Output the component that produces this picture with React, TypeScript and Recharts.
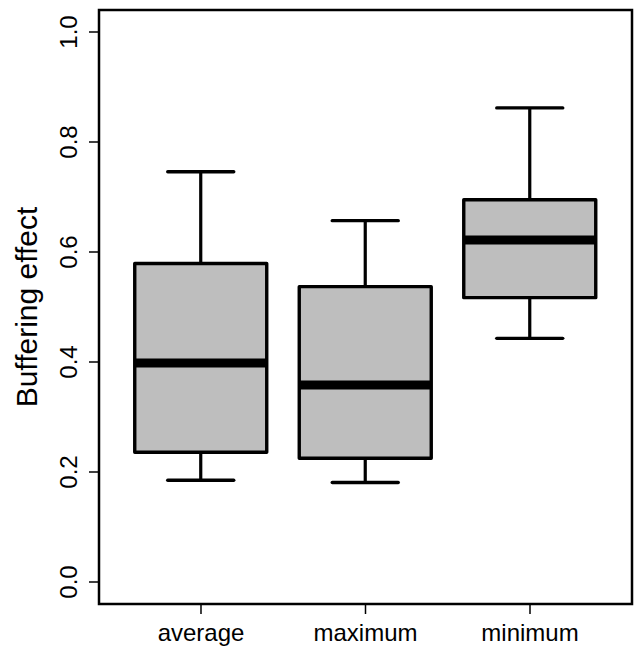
import React from 'react';
import { ComposedChart, Bar, XAxis, YAxis, ReferenceArea } from 'recharts';

const categories = ['average', 'maximum', 'minimum'];
const whiskerLow = [0.185, 0.181, 0.443];
const lowerQuartile = [0.236, 0.225, 0.517];
const medians = [0.398, 0.358, 0.622];
const upperQuartile = [0.579, 0.537, 0.695];
const whiskerHigh = [0.746, 0.657, 0.862];
const yTicks = [0, 0.2, 0.4, 0.6, 0.8, 1.0];
const xTicks = [1, 2, 3];

const data = categories.map((name, i) => ({
  name,
  pos: i + 1,
  low: whiskerLow[i],
  q1: lowerQuartile[i],
  med: medians[i],
  q3: upperQuartile[i],
  high: whiskerHigh[i],
  range: [whiskerLow[i], whiskerHigh[i]],
}));

const FONT = 'Liberation Sans, Arial, Helvetica, sans-serif';

const BoxShape = (props: any) => {
  const { x, y, width, height, payload } = props;
  const top = Math.min(y, y + height);
  const bottom = Math.max(y, y + height);
  const { low, high, q1, q3, med } = payload;
  const py = (v: number) => top + ((bottom - top) * (high - v)) / (high - low);
  const cx = x + width / 2;
  const cap = width / 4;
  return (
    <g>
      <line x1={cx} x2={cx} y1={py(high)} y2={py(q3)} stroke="#000" strokeWidth={3.2} />
      <line x1={cx} x2={cx} y1={py(q1)} y2={py(low)} stroke="#000" strokeWidth={3.2} />
      <line x1={cx - cap} x2={cx + cap} y1={py(high)} y2={py(high)} stroke="#000" strokeWidth={3.4} strokeLinecap="round" />
      <line x1={cx - cap} x2={cx + cap} y1={py(low)} y2={py(low)} stroke="#000" strokeWidth={3.4} strokeLinecap="round" />
      <rect x={x} y={py(q3)} width={width} height={py(q1) - py(q3)} fill="#BEBEBE" stroke="#000" strokeWidth={3.4} strokeLinejoin="round" />
      <line x1={x} x2={x + width} y1={py(med)} y2={py(med)} stroke="#000" strokeWidth={9} />
    </g>
  );
};

const YTick = (props: any) => {
  const { x, y, payload } = props;
  const bx = x - 10;
  return (
    <text x={bx} y={y} transform={`rotate(-90, ${bx}, ${y})`} textAnchor="middle" fontSize={24} fontFamily={FONT} fill="#000">
      {payload.value.toFixed(1)}
    </text>
  );
};

const XTick = (props: any) => {
  const { x, y, payload } = props;
  return (
    <text x={x} y={y + 25} textAnchor="middle" fontSize={24} fontFamily={FONT} fill="#000">
      {categories[payload.value - 1]}
    </text>
  );
};

const YTitle = (props: any) => {
  const vb = props.viewBox || {};
  const bx = vb.x + 37;
  const cy = vb.y + vb.height / 2;
  return (
    <text x={bx} y={cy} transform={`rotate(-90, ${bx}, ${cy})`} textAnchor="middle" fontSize={30} fontFamily={FONT} fill="#000">
      Buffering effect
    </text>
  );
};

export default function App() {
  return (
    <div style={{ position: 'absolute', left: 0, top: 0, background: '#fff' }}>
      <ComposedChart width={637} height={647} data={data} margin={{ top: 10, right: 5, left: 0, bottom: 0 }}>
        <XAxis
          dataKey="pos"
          type="number"
          domain={[0.38, 3.62]}
          ticks={xTicks}
          allowDataOverflow
          axisLine={false}
          tickLine={{ stroke: '#000', strokeWidth: 1.5 }}
          tickSize={10}
          tick={<XTick />}
          height={43}
          interval={0}
        />
        <YAxis
          type="number"
          domain={[-0.04, 1.04]}
          ticks={yTicks}
          allowDataOverflow
          axisLine={false}
          tickLine={{ stroke: '#000', strokeWidth: 1.5 }}
          tickSize={10}
          tick={<YTick />}
          width={99}
          label={<YTitle />}
        />
        <Bar dataKey="range" barSize={132} shape={<BoxShape />} isAnimationActive={false} />
        <ReferenceArea x1={0.38} x2={3.62} y1={-0.04} y2={1.04} fill="none" stroke="#000" strokeWidth={2.5} ifOverflow="visible" />
      </ComposedChart>
    </div>
  );
}
